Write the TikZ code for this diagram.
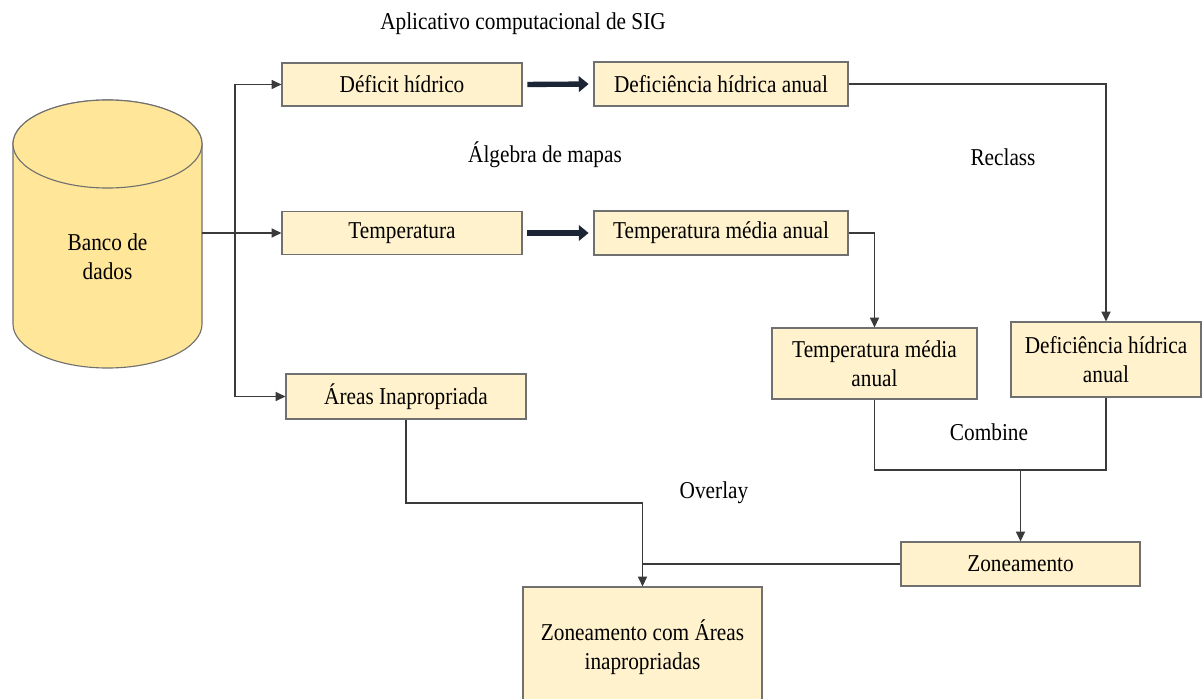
\documentclass[tikz,border=0pt]{standalone}
\usepackage{fontspec}
\setmainfont{Liberation Serif}[FakeStretch=0.88]
\usetikzlibrary{arrows.meta}
\definecolor{boxfill}{HTML}{FFF2CC}
\definecolor{cylfill}{HTML}{FFE699}
\definecolor{edgegray}{HTML}{707070}
\definecolor{linegray}{HTML}{3A3A3A}
\definecolor{fatblue}{HTML}{1C2536}
\begin{document}
\begin{tikzpicture}[
    font=\fontsize{17.2}{20.5}\selectfont,
    box/.style={draw=edgegray, fill=boxfill, line width=0.8pt, inner sep=0pt, align=center},
    cyl/.style={draw=edgegray, fill=cylfill, line width=0.8pt},
    conn/.style={draw=linegray, line width=0.9pt},
    arr/.style={conn, -{Triangle[length=7pt,width=6.5pt]}},
    fat/.style={draw=fatblue, line width=3.8pt, -{Triangle[length=7pt,width=11pt]},
      shorten <=0.12cm, shorten >=0.12cm},
  ]
    \def\x{0.025}
    \def\y{-0.025}
    \useasboundingbox (0,0) rectangle (1203*\x, 699*\y);
    \clip (0,0) rectangle (1203*\x, 699*\y);
    % banco de dados
    \filldraw[cyl] (13*\x, 144*\y) -- (13*\x, 324*\y)
      arc[start angle=180, end angle=360, x radius=2.3625cm, y radius=1.1cm]
      -- (202*\x, 144*\y)
      arc[start angle=0, end angle=180, x radius=2.3625cm, y radius=1.1cm] -- cycle;
    \draw[cyl] (107.5*\x, 144*\y) ellipse [x radius=2.3625cm, y radius=1.1cm];
    \node[align=center] (A1_0) at (107.5*\x, 257*\y) {Banco de\\dados};
    \coordinate (A1_0e) at (202*\x, 233*\y);
    \coordinate (J) at (235*\x, 233*\y);
    % caixas
    \node[box, minimum width=6cm, minimum height=1.075cm] (A0_1) at (402*\x, 84.5*\y) {Déficit hídrico};
    \node[box, minimum width=6.35cm, minimum height=1.1cm] (A0_2) at (721*\x, 84*\y) {Deficiência hídrica anual};
    \node[box, minimum width=6cm, minimum height=1.075cm] (A1_1) at (402*\x, 233*\y) {Temperatura};
    \node[box, minimum width=6.35cm, minimum height=1.1cm] (A1_2) at (721*\x, 233*\y) {Temperatura média anual};
    \node[box, minimum width=6cm, minimum height=1.125cm] (A2_1) at (406*\x, 396.5*\y) {Áreas Inapropriada};
    \node[box, minimum width=5.125cm, minimum height=1.775cm] (A2_2) at (874.5*\x, 363.5*\y) {Temperatura média\\anual};
    \node[box, minimum width=4.75cm, minimum height=1.875cm] (A2_3) at (1106*\x, 359.5*\y) {Deficiência hídrica\\anual};
    \node[box, minimum width=5.975cm, minimum height=1.1cm] (A3_3) at (1020.5*\x, 564*\y) {Zoneamento};
    \node[box, minimum width=5.975cm, minimum height=3cm] (A4_2) at (642.5*\x, 647*\y) {Zoneamento com Áreas\\inapropriadas};
    % rotulos
    \node (sig) at (523*\x, 24*\y) {Aplicativo computacional de SIG};
    \node (alg) at (545*\x, 155*\y) {Álgebra de mapas};
    \node (recl) at (1003*\x, 157*\y) {Reclass};
    \node (comb) at (989*\x, 432*\y) {Combine};
    \node (ovl) at (714*\x, 493*\y) {Overlay};
    % ligacoes
    \draw[arr] (A1_0e) -- (A1_1.west);
    \draw[arr] (J) |- (A0_1.west);
    \draw[arr] (J) |- (A2_1.west);
    \draw[fat] (A0_1.east) -- (A0_2.west);
    \draw[fat] (A1_1.east) -- (A1_2.west);
    \draw[arr] (A0_2.east) -| (A2_3.north);
    \draw[arr] (A1_2.east) -| (A2_2.north);
    \coordinate (C) at (1020.5*\x, 470*\y);
    \draw[conn] (A2_2.south) -- (A2_2.south |- C) -- (A2_3.south |- C) -- (A2_3.south);
    \draw[arr] (C) -- (A3_3.north);
    \coordinate (O) at (642.5*\x, 503*\y);
    \draw[arr] (A2_1.south) |- (O) -- (A4_2.north);
    \draw[conn] (A3_3.west) -- (A3_3.west -| A4_2.north);
  \end{tikzpicture}
\end{document}
